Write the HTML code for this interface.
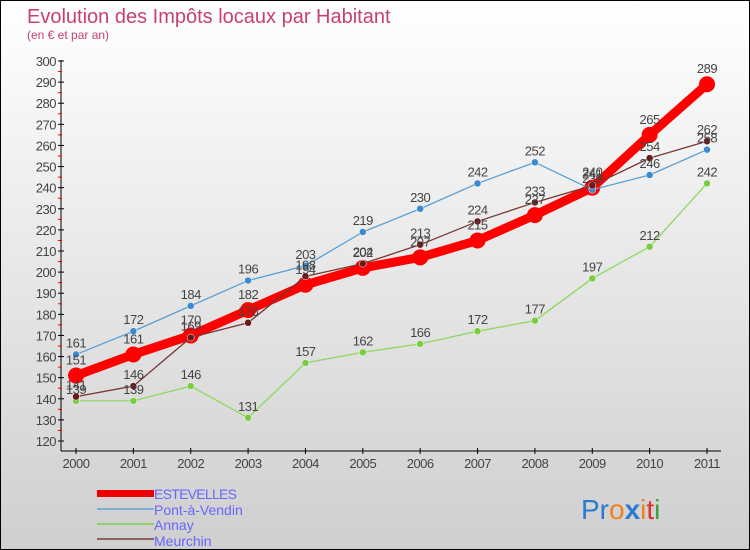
<!DOCTYPE html>
<html><head><meta charset="utf-8"><style>
body{margin:0;}
#c{width:748px;height:548px;border:1px solid #000;background:linear-gradient(#fff,#cfcfcf);position:relative;overflow:hidden;font-family:"Liberation Sans",sans-serif;}
</style></head><body>
<div id="c">
<svg id="s" width="748" height="548" xmlns="http://www.w3.org/2000/svg">
<text x="26" y="22" font-size="20" fill="#c84070">Evolution des Impôts locaux par Habitant</text>
<text x="26" y="38" font-size="12" fill="#c84070">(en € et par an)</text>
<g id="axes"></g><g id="lines"></g><g id="labels"></g>
<g>
<rect x="96" y="489" width="57" height="7" fill="#e00"/>
<text x="153" y="498" font-size="14" fill="#66f" textLength="83">ESTEVELLES</text>
<rect x="96" y="507" width="57" height="2" fill="#7aaed4"/>
<text x="153" y="514" font-size="14" fill="#66f">Pont-à-Vendin</text>
<rect x="96" y="522" width="57" height="2" fill="#90d070"/>
<text x="153" y="529" font-size="14" fill="#66f">Annay</text>
<rect x="96" y="537" width="57" height="2" fill="#8a6060"/>
<text x="153" y="545" font-size="14" fill="#66f">Meurchin</text>
</g>
<text x="580" y="518" font-size="28" font-family="Liberation Sans"><tspan fill="#2a7ad0">Pr</tspan><tspan fill="#f08020">o</tspan><tspan fill="#2a7ad0" font-weight="bold">x</tspan><tspan fill="#f08020">i</tspan><tspan fill="#e03030">t</tspan><tspan fill="#40a040">i</tspan></text>
</svg></div>
<script>
const years=[2000,2001,2002,2003,2004,2005,2006,2007,2008,2009,2010,2011];
const yTicks=[120,130,140,150,160,170,180,190,200,210,220,230,240,250,260,270,280,290,300];
const estevelles=[151,161,170,182,194,202,207,215,227,240,265,289];
const pontAVendin=[161,172,184,196,203,219,230,242,252,239,246,258];
const annay=[139,139,146,131,157,162,166,172,177,197,212,242];
const meurchin=[141,146,169,176,198,204,213,224,233,241,254,262];
const NS="http://www.w3.org/2000/svg";
function X(i){return 75+i*(706-75)/(years.length-1);}
function Y(v){return 440-(v-120)*(380/180);}
function mk(t,a,p){const e=document.createElementNS(NS,t);for(const k in a)e.setAttribute(k,a[k]);p.appendChild(e);return e;}
const ax=document.getElementById('axes'),ln=document.getElementById('lines'),lb=document.getElementById('labels');
let e=mk('line',{x1:60,y1:59,x2:60,y2:450,stroke:'#000','stroke-width':1},ax);


e=mk('line',{x1:60,y1:450,x2:720,y2:450,stroke:'#000','stroke-width':1},ax);


yTicks.forEach(v=>{const y=Y(v);mk('line',{x1:57,y1:y,x2:63,y2:y,stroke:'#000'},ax);
 if(v<300)mk('line',{x1:57,y1:y-380/36,x2:61,y2:y-380/36,stroke:'#e00'},ax);
 const t=mk('text',{x:55,y:y+5,'font-size':13,fill:'#444','text-anchor':'end','letter-spacing':'-0.5'},ax);t.textContent=v;
 
 });
years.forEach((yr,i)=>{const x=X(i);mk('line',{x1:x,y1:447,x2:x,y2:453,stroke:'#000'},ax);
 const t=mk('text',{x:x,y:467,'font-size':13,fill:'#444','text-anchor':'middle','letter-spacing':'-0.5'},ax);t.textContent=yr;
 
 });
const series=[[estevelles,'#f00',9,8,'estevelles'],[pontAVendin,'#5a9fd4',1.3,3.5,'pont-a-vendin'],[annay,'#8cd860',1.3,3.5,'annay'],[meurchin,'#7a3535',1.3,3.5,'meurchin']];
const fills={'estevelles':'#f00','pont-a-vendin':'#3a8ad0','annay':'#7acc40','meurchin':'#6a1a1a'};
series.forEach(([d,c,w,r,n])=>{
 const l=mk('polyline',{points:d.map((v,i)=>X(i)+','+Y(v)).join(' '),fill:'none',stroke:c,'stroke-width':w,'stroke-linejoin':'round'},ln);
 
 
 d.forEach((v,i)=>{const p=mk('circle',{cx:X(i),cy:Y(v),r:r,fill:fills[n],stroke:n==='estevelles'?'none':'#fff','stroke-width':0.5},ln);
  
  
  const t=mk('text',{x:X(i),y:Y(v)-(n==='estevelles'?11:7),'font-size':13,fill:'#444','text-anchor':'middle','letter-spacing':'-0.5'},lb);t.textContent=v;
  
  });
});
</script>
</body></html>
